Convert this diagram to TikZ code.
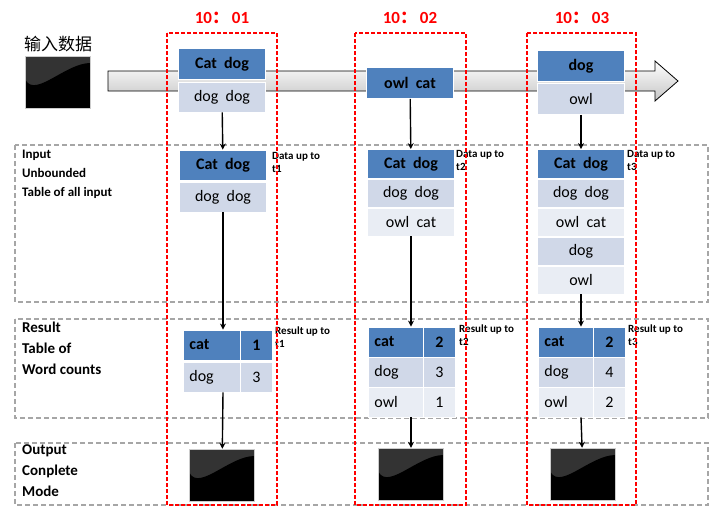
\documentclass[tikz,border=0pt]{standalone}
\usepackage{fontspec}
\setmainfont{Carlito}
\newfontfamily\cjk{Noto Sans CJK SC}
\usetikzlibrary{arrows.meta}
\definecolor{hb}{HTML}{4F81BD}
\definecolor{r1}{HTML}{D0D8E8}
\definecolor{r2}{HTML}{E9EDF4}
\begin{document}
\begin{tikzpicture}[x=1pt,y=-1pt,
 hd/.style={fill=hb,draw=white,line width=0.8pt,font=\bfseries\fontsize{16}{16}\selectfont,inner sep=0pt,minimum width=87pt},
 ra/.style={fill=r1,draw=white,line width=0.8pt,font=\fontsize{16}{16}\selectfont,inner sep=0pt,minimum width=87pt},
 rb/.style={fill=r2,draw=white,line width=0.8pt,font=\fontsize{16}{16}\selectfont,inner sep=0pt,minimum width=87pt},
 cl/.style={text width=45pt,align=left},
 red/.style={draw=red,line width=1.3pt,dash pattern=on 4pt off 2pt},
 gbox/.style={draw=gray!70,line width=1.2pt,dash pattern=on 5pt off 3pt},
 sm/.style={font=\bfseries\fontsize{11}{13}\selectfont,align=left,anchor=north west,inner sep=0pt},
 lab/.style={font=\bfseries\fontsize{13}{19}\selectfont,align=left,anchor=north west,inner sep=0pt},
 tt/.style={font=\bfseries\fontsize{17}{17}\selectfont,text=red},
 scr/.style={fill=black!80,draw=gray!40,minimum width=65pt,minimum height=52pt,inner sep=0pt,
   path picture={\fill[black] ([yshift=-24pt]path picture bounding box.north west) .. controls +(10pt,-18pt) and +(-25pt,0pt) .. ([yshift=-7pt]path picture bounding box.north east) |- (path picture bounding box.south west) -- cycle;}},
 ar/.style={-{Stealth[length=6pt,width=6pt]},line width=1.4pt}]
\useasboundingbox (0,0) rectangle (720,522);
% input band
\path[draw=black,line width=0.8pt,top color=white,bottom color=gray!45]
 (108,71) -- (655,71) -- (655,61) -- (678,81) -- (655,101) -- (655,91) -- (108,91) -- cycle;
% gray boxes
\draw[gbox] (15,145) rectangle (708,302);
\draw[gbox] (15,319) rectangle (708,418);
\draw[gbox] (15,443) rectangle (708,505);
\node[lab] (l1) at (22,150) {Input\\Unbounded\\Table of all input};
\node[lab,font=\bfseries\fontsize{15}{21}\selectfont] (l2) at (22,322) {Result\\Table of\\Word counts};
\node[lab,font=\bfseries\fontsize{15}{21}\selectfont] (l3) at (22,444) {Output\\Conplete\\Mode};
% input data
\node[font=\cjk\fontsize{17}{17}\selectfont] (in) at (58,44) {输入数据};
\node[scr] (s0) at (58,82) {};
% column 1
\node[hd,minimum height=31pt] (a1) at (222,64) {Cat\ \ dog};
\node[ra,minimum height=30pt] (a2) at (222,97) {dog\ \ dog};
\node[hd,minimum height=30pt] (b1) at (223,165) {Cat\ \ dog};
\node[ra,minimum height=30pt] (b2) at (223,197) {dog\ \ dog};
\node[sm] (d1) at (272,152) {Data up to\\t1};
\node[hd,cl,minimum width=57pt,minimum height=30pt,anchor=west,inner xsep=6pt] (c1) at (183,345) {cat};
\node[hd,minimum width=32pt,minimum height=30pt,anchor=west] (c2) at (240,345) {1};
\node[ra,cl,minimum width=57pt,minimum height=30pt,anchor=west,inner xsep=6pt] (c3) at (183,377) {dog};
\node[ra,minimum width=32pt,minimum height=30pt,anchor=west] (c4) at (240,377) {3};
\node[sm] (e1) at (275,327) {Result up to\\t1};
\node[scr] (s1) at (222,475) {};
\draw[ar] (a2) -- (b1);
\draw[ar] (b2.south) -- (b2.south |- c1.north);
\draw[ar] (c3.south -| b2.south) -- (s1);
% column 2
\node[hd,minimum height=31pt] (f1) at (410,83) {owl\ \ cat};
\node[hd,minimum height=29pt] (g1) at (411,164) {Cat\ \ dog};
\node[ra,minimum height=28pt] (g2) at (411,193) {dog\ \ dog};
\node[rb,minimum height=28pt] (g3) at (411,222) {owl\ \ cat};
\node[sm] (d2) at (456,150) {Data up to\\t2};
\node[hd,cl,minimum width=55pt,minimum height=30pt,anchor=west,inner xsep=6pt] (h1) at (368,342) {cat};
\node[hd,minimum width=32pt,minimum height=30pt,anchor=west] (h2) at (423,342) {2};
\node[ra,cl,minimum width=55pt,minimum height=30pt,anchor=west,inner xsep=6pt] (h3) at (368,372) {dog};
\node[ra,minimum width=32pt,minimum height=30pt,anchor=west] (h4) at (423,372) {3};
\node[rb,cl,minimum width=55pt,minimum height=30pt,anchor=west,inner xsep=6pt] (h5) at (368,402) {owl};
\node[rb,minimum width=32pt,minimum height=30pt,anchor=west] (h6) at (423,402) {1};
\node[sm] (e2) at (459,325) {Result up to\\t2};
\node[scr] (s2) at (411,474) {};
\draw[ar] (f1) -- (g1);
\draw[ar] (g3.south) -- (g3.south |- h1.north);
\draw[ar] (h5.south -| g3.south) -- (s2);
% column 3
\node[hd,minimum height=31pt] (i1) at (581,66) {dog};
\node[ra,minimum height=31pt] (i2) at (581,99) {owl};
\node[hd,minimum height=29pt] (j1) at (581,164) {Cat\ \ dog};
\node[ra,minimum height=28pt] (j2) at (581,193) {dog\ \ dog};
\node[rb,minimum height=28pt] (j3) at (581,222) {owl\ \ cat};
\node[ra,minimum height=28pt] (j4) at (581,251) {dog};
\node[rb,minimum height=28pt] (j5) at (581,280) {owl};
\node[sm] (d3) at (627,150) {Data up to\\t3};
\node[hd,cl,minimum width=55pt,minimum height=30pt,anchor=west,inner xsep=6pt] (k1) at (538,342) {cat};
\node[hd,minimum width=32pt,minimum height=30pt,anchor=west] (k2) at (593,342) {2};
\node[ra,cl,minimum width=55pt,minimum height=30pt,anchor=west,inner xsep=6pt] (k3) at (538,372) {dog};
\node[ra,minimum width=32pt,minimum height=30pt,anchor=west] (k4) at (593,372) {4};
\node[rb,cl,minimum width=55pt,minimum height=30pt,anchor=west,inner xsep=6pt] (k5) at (538,402) {owl};
\node[rb,minimum width=32pt,minimum height=30pt,anchor=west] (k6) at (593,402) {2};
\node[sm] (e3) at (628,325) {Result up to\\t3};
\node[scr] (s3) at (583,474) {};
\draw[ar] (i2) -- (j1);
\draw[ar] (j5.south) -- (j5.south |- k1.north);
\draw[ar] (k5.south -| j5.south) -- (s3);
% red boxes
\draw[red] (167,33) rectangle (277,505);
\draw[red] (355,33) rectangle (466,505);
\draw[red] (527,33) rectangle (636,505);
\node[tt] (t1) at (222,18) {10{\cjk ：}\,01};
\node[tt] (t2) at (410,18) {10{\cjk ：}\,02};
\node[tt] (t3) at (582,18) {10{\cjk ：}\,03};
\end{tikzpicture}
\end{document}
